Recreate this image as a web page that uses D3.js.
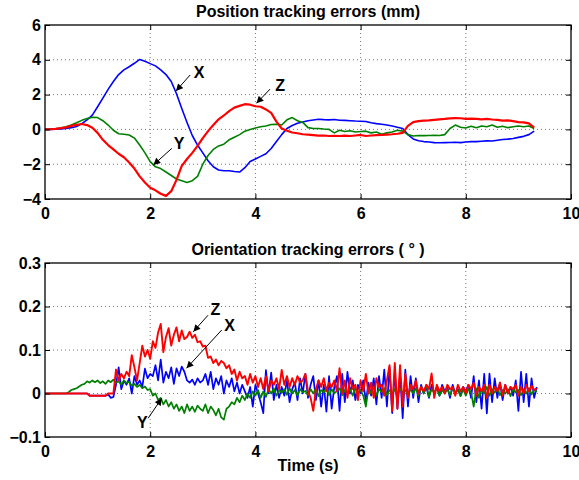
<!DOCTYPE html>
<html>
<head>
<meta charset="utf-8">
<script src="https://cdn.jsdelivr.net/npm/d3@7"></script>
<style>
body { margin: 0; background: #fff; }
text { font-family: "Liberation Sans", Arial, sans-serif; font-weight: bold; fill: #000; }
</style>
</head>
<body>
<svg id="chart" width="579" height="480"></svg>
<script>
// sample interval of each record (s)
var posStep = 0.1;
var oriStep = 0.05;

// position errors (mm), one row per second
var posX = [
	0, 0, 0.01, 0.03, 0.05, 0.1, 0.17, 0.33, 0.55, 0.82,
	1.3, 1.8, 2.3, 2.75, 3.15, 3.42, 3.6, 3.8, 4.02, 3.92,
	3.78, 3.65, 3.42, 3.15, 2.75, 2.05, 1.2, 0.4, -0.35, -0.9,
	-1.35, -1.8, -2.15, -2.33, -2.38, -2.38, -2.42, -2.45, -2.2, -1.85,
	-1.7, -1.55, -1.4, -1.1, -0.7, -0.3, 0.05, 0.22, 0.35, 0.43,
	0.5, 0.54, 0.58, 0.56, 0.55, 0.57, 0.53, 0.52, 0.5, 0.48,
	0.47, 0.45, 0.38, 0.33, 0.3, 0.25, 0.2, 0.12, 0.05, -0.3,
	-0.55, -0.65, -0.7, -0.72, -0.76, -0.77, -0.76, -0.75, -0.74, -0.76,
	-0.72, -0.7, -0.7, -0.68, -0.66, -0.67, -0.62, -0.58, -0.56, -0.52,
	-0.46, -0.4, -0.3, -0.1
];
var posY = [
	0, 0.01, 0.04, 0.08, 0.15, 0.25, 0.38, 0.52, 0.62, 0.7,
	0.68, 0.5, 0.25, -0.05, -0.25, -0.28, -0.32, -0.5, -0.9, -1.35,
	-1.85, -2.15, -2.25, -2.45, -2.65, -2.85, -2.95, -3.05, -2.95, -2.7,
	-2.0, -1.5, -1.15, -0.95, -0.85, -0.6, -0.45, -0.3, -0.1, 0.0,
	0.08, 0.15, 0.2, 0.28, 0.3, 0.25, 0.55, 0.68, 0.5, 0.4,
	0.1, 0.05, 0.05, 0.02, 0.0, -0.2, -0.05, -0.12, -0.08, -0.15,
	-0.12, -0.1, -0.2, -0.15, -0.28, -0.2, -0.15, -0.05, -0.1, -0.3,
	-0.38, -0.35, -0.36, -0.35, -0.34, -0.35, -0.3, 0.05, 0.25, 0.12,
	0.08, 0.18, 0.1, 0.2, 0.15, 0.25, 0.12, 0.18, 0.1, 0.15,
	0.2, 0.15, 0.2, 0.05
];
var posZ = [
	0, 0.01, 0.03, 0.07, 0.12, 0.2, 0.26, 0.31, 0.25, 0.1,
	-0.2, -0.6, -0.9, -1.15, -1.4, -1.6, -1.9, -2.25, -2.7, -3.05,
	-3.35, -3.5, -3.7, -3.82, -3.55, -2.9, -2.1, -1.7, -1.35, -0.95,
	-0.5, -0.1, 0.25, 0.58, 0.8, 1.05, 1.25, 1.35, 1.45, 1.42,
	1.33, 1.3, 1.15, 0.95, 0.45, 0.05, -0.08, -0.18, -0.22, -0.28,
	-0.3, -0.33, -0.36, -0.35, -0.38, -0.37, -0.38, -0.36, -0.38, -0.35,
	-0.32, -0.38, -0.35, -0.33, -0.32, -0.3, -0.28, -0.25, -0.2, 0.2,
	0.42, 0.48, 0.5, 0.52, 0.55, 0.58, 0.6, 0.63, 0.65, 0.64,
	0.6, 0.62, 0.6, 0.58, 0.6, 0.57, 0.55, 0.5, 0.52, 0.48,
	0.42, 0.4, 0.35, 0.1
];

// orientation errors (deg), one row per second
var oriX = [
	0, 0, 0, 0, 0, 0, 0, 0, 0, 0, 0, 0, 0, 0, 0, 0, 0, -0.005, -0.005, -0.005,
	-0.005, -0.005, -0.005, -0.005, -0.002, -0.01, -0.008, 0.02, 0.06, 0.01, 0.03, 0.02, 0.035, 0.0, 0.04, 0.02, 0.03, 0.015, 0.057, 0.035,
	0.045, 0.04, 0.065, 0.03, 0.078, 0.025, 0.05, 0.035, 0.06, 0.022, 0.058, 0.04, 0.062, 0.05, 0.03, 0.025, 0.032, 0.02, 0.035, 0.025,
	0.03, 0.045, 0.02, 0.05, 0.01, 0.035, 0.02, 0.04, 0.0, 0.03, 0.015, 0.035, 0.005, 0.025, 0.0, 0.02, 0.005, -0.01, 0.015, -0.03,
	0.02, 0.0, -0.02, -0.045, 0.054, 0.0, 0.048, -0.015, 0.02, -0.01, 0.015, -0.005, 0.03, -0.02, 0.01, 0.025, -0.015, 0.035, 0.0, 0.045,
	-0.01, 0.02, 0.04, -0.015, 0.03, -0.03, 0.02, -0.042, 0.04, -0.035, 0.015, 0.04, -0.04, 0.045, -0.02, 0.05, 0.0, 0.03, -0.015, 0.02,
	0.0, 0.03, -0.02, 0.025, -0.005, 0.035, -0.025, 0.04, -0.01, 0.055, -0.03, 0.06, -0.045, 0.05, -0.035, 0.045, -0.057, 0.055, -0.03, 0.04,
	-0.01, 0.035, -0.02, 0.02, 0.0, 0.015, -0.01, 0.02, 0.0, 0.015, -0.005, 0.02, 0.005, 0.015, -0.01, 0.02, 0.0, 0.01, -0.005, 0.015,
	0.005, 0.02, -0.01, 0.04, -0.02, 0.03, -0.035, 0.045, -0.046, 0.046, -0.02, 0.035, -0.01, 0.025, -0.015, 0.02, 0.0, 0.015, -0.005, 0.03,
	-0.04, 0.05, -0.02, 0.045, -0.03, 0.035, -0.01, 0.015
];
var oriY = [
	0, 0, 0, 0, 0, 0, 0, 0, 0, 0.003, 0.008, 0.01, 0.012, 0.016, 0.02, 0.022, 0.028, 0.025, 0.03, 0.026,
	0.03, 0.024, 0.028, 0.022, 0.03, 0.026, 0.032, 0.025, 0.028, 0.02, 0.03, 0.024, 0.027, 0.018, 0.022, 0.015, 0.02, 0.012, 0.016, 0.008,
	0.01, -0.005, 0.0, -0.015, -0.01, -0.025, -0.015, -0.03, -0.02, -0.035, -0.025, -0.04, -0.03, -0.045, -0.025, -0.04, -0.03, -0.042, -0.028, -0.035,
	-0.04, -0.025, -0.045, -0.03, -0.038, -0.05, -0.035, -0.055, -0.06, -0.035, -0.03, -0.02, -0.025, -0.01, -0.02, -0.005, -0.015, 0.0, -0.01, 0.005,
	-0.005, 0.008, -0.01, 0.005, -0.008, 0.01, 0.0, 0.012, -0.005, 0.008, 0.002, 0.01, -0.003, 0.012, 0.0, 0.008, -0.005, 0.01, 0.003, 0.006,
	-0.004, 0.01, 0.0, 0.012, -0.006, 0.008, 0.002, 0.014, -0.004, 0.01, 0.0, 0.006, 0.012, -0.004, 0.008, 0.0, 0.01, -0.005, 0.012, 0.002,
	0.008, -0.005, -0.03, 0.012, 0.0, 0.015, -0.005, 0.01, 0.003, 0.012, -0.004, 0.008, 0.0, 0.01, -0.006, 0.012, 0.002, 0.008, -0.004, 0.01,
	0.0, 0.012, -0.005, 0.015, 0.0, 0.02, -0.008, 0.01, 0.002, 0.012, -0.005, 0.008, 0.0, 0.01, -0.004, 0.012, 0.003, 0.008, -0.006, 0.01,
	-0.005, 0.01, 0.003, -0.03, 0.012, -0.01, 0.008, 0.0, 0.015, -0.005, 0.01, 0.002, 0.012, -0.004, 0.008, 0.0, 0.01, -0.006, 0.012, 0.002,
	0.008, -0.004, 0.01, 0.0, 0.012, -0.002, 0.008, 0.004
];
var oriZ = [
	0, 0, 0, 0, 0, 0, 0, 0, 0, 0, 0, 0, 0, 0, 0, 0, 0, -0.005, -0.005, -0.005,
	-0.005, -0.005, -0.005, -0.005, 0, 0, 0, 0.055, 0.03, 0.045, 0.035, 0.05, 0.04, 0.088, 0.06, 0.03, 0.07, 0.11, 0.085, 0.1,
	0.08, 0.12, 0.105, 0.14, 0.16, 0.095, 0.13, 0.15, 0.11, 0.135, 0.152, 0.12, 0.145, 0.125, 0.13, 0.142, 0.128, 0.135, 0.118, 0.12,
	0.108, 0.11, 0.082, 0.085, 0.07, 0.078, 0.065, 0.075, 0.07, 0.058, 0.065, 0.045, 0.055, 0.03, 0.05, 0.035, 0.04, 0.02, 0.045, 0.025,
	0.04, 0.015, 0.035, 0.01, 0.04, 0.005, 0.03, 0.02, 0.035, 0.01, 0.054, 0.02, 0.04, 0.015, 0.035, 0.02, 0.04, 0.025, 0.03, 0.045,
	0.005, -0.01, -0.04, 0.01, 0.03, 0.015, 0.035, 0.005, 0.025, 0.015, 0.03, 0.005, 0.058, 0.0, 0.03, -0.01, 0.035, 0.01, 0.02, -0.015,
	0.03, 0.005, 0.045, 0.0, 0.025, -0.01, 0.035, 0.015, 0.02, -0.005, 0.03, 0.065, -0.04, 0.07, -0.035, 0.065, -0.03, 0.045, -0.01, 0.02,
	0.01, 0.03, 0.0, 0.015, 0.005, 0.02, 0.01, 0.046, -0.01, 0.02, 0.005, 0.015, 0.0, 0.02, 0.01, 0.015, -0.005, 0.02, 0.005, 0.015,
	0.0, 0.02, 0.01, 0.025, -0.005, 0.015, 0.005, 0.02, -0.01, 0.02, 0.0, 0.015, 0.005, 0.025, -0.005, 0.02, 0.0, 0.015, 0.01, 0.02,
	-0.005, 0.015, 0.0, 0.02, 0.005, 0.018, 0.008, 0.012
];

var timeTicks = [0, 2, 4, 6, 8, 10];
var posTicks = [-4, -2, 0, 2, 4, 6];
var oriTicks = [-0.1, 0, 0.1, 0.2, 0.3];

// annotation arrows in data units: [label, tipT, tipV, tailT, tailV, textT, textV]
var posNotes = [
	['X', 2.49, 2.21, 2.76, 3.13, 2.93, 3.3],
	['Y', 2.06, -2.05, 2.41, -1.09, 2.55, -0.78],
	['Z', 4.02, 1.5, 4.28, 2.32, 4.47, 2.55]
];
var oriNotes = [
	['Z', 2.82, 0.142, 3.1, 0.18, 3.24, 0.193],
	['X', 2.69, 0.058, 3.36, 0.146, 3.51, 0.156],
	['Y', 2.22, -0.011, 1.96, -0.057, 1.85, -0.066]
];

var svg = d3.select('#chart');

svg.append('defs').append('marker')
	.attr('id', 'head')
	.attr('viewBox', '0 0 10 10')
	.attr('refX', 10).attr('refY', 5)
	.attr('markerWidth', 8).attr('markerHeight', 7)
	.attr('markerUnits', 'userSpaceOnUse')
	.attr('orient', 'auto')
	.append('path').attr('d', 'M0,0L10,5L0,10Z').attr('fill', '#000');

var x = d3.scaleLinear().domain([0, 10]).range([45, 571]);

function drawPanel(top, bottom, yDomain, yTicks, title, fmt, series, step, notes) {
	var y = d3.scaleLinear().domain(yDomain).range([bottom, top]);
	var g = svg.append('g');

	// dotted grid
	g.selectAll('.gx').data(timeTicks.slice(1, -1)).enter().append('line')
		.attr('x1', function(d){ return x(d); }).attr('x2', function(d){ return x(d); })
		.attr('y1', top).attr('y2', bottom)
		.attr('stroke', '#777').attr('stroke-dasharray', '1,3');
	g.selectAll('.gy').data(yTicks.slice(1, -1)).enter().append('line')
		.attr('x1', x(0)).attr('x2', x(10))
		.attr('y1', function(d){ return y(d); }).attr('y2', function(d){ return y(d); })
		.attr('stroke', '#777').attr('stroke-dasharray', '1,3');

	var line = d3.line()
		.x(function(d, i){ return x(i * step); })
		.y(function(d){ return y(d); });

	series.forEach(function(s){
		g.append('path').datum(s.values)
			.attr('d', line)
			.attr('fill', 'none')
			.attr('stroke', s.color)
			.attr('stroke-width', s.width)
			.attr('stroke-linejoin', 'round');
	});

	// axes with ticks pointing inward
	g.append('g').attr('transform', 'translate(0,' + bottom + ')')
		.call(d3.axisBottom(x).tickValues(timeTicks).tickSize(-5).tickPadding(9).tickFormat(d3.format('d')));
	g.append('g').attr('transform', 'translate(0,' + top + ')')
		.call(d3.axisTop(x).tickValues(timeTicks).tickSize(-5).tickFormat(''));
	g.append('g').attr('transform', 'translate(' + x(0) + ',0)')
		.call(d3.axisLeft(y).tickValues(yTicks).tickSize(-5).tickPadding(4).tickFormat(fmt));
	g.append('g').attr('transform', 'translate(' + x(10) + ',0)')
		.call(d3.axisRight(y).tickValues(yTicks).tickSize(-5).tickFormat(''));

	g.selectAll('.domain').remove();
	g.selectAll('.tick line').attr('stroke', '#000');
	g.selectAll('.tick text').style('font-size', '16px');

	g.append('rect')
		.attr('x', x(0)).attr('y', top)
		.attr('width', x(10) - x(0)).attr('height', bottom - top)
		.attr('fill', 'none').attr('stroke', '#000').attr('stroke-width', 1.3);

	g.append('text')
		.attr('x', (x(0) + x(10)) / 2).attr('y', top - 8)
		.attr('text-anchor', 'middle')
		.style('font-size', '16px')
		.text(title);

	notes.forEach(function(n){
		g.append('line')
			.attr('x1', x(n[3])).attr('y1', y(n[4]))
			.attr('x2', x(n[1])).attr('y2', y(n[2]))
			.attr('stroke', '#000').attr('stroke-width', 1)
			.attr('marker-end', 'url(#head)');
		g.append('text')
			.attr('x', x(n[5])).attr('y', y(n[6]))
			.attr('dy', '0.36em')
			.attr('text-anchor', 'middle')
			.style('font-size', '16px')
			.text(n[0]);
	});
}

drawPanel(25, 199, [-4, 6], posTicks, 'Position tracking errors (mm)', d3.format('d'), [
	{ values: posX, color: '#0000ff', width: 1.6 },
	{ values: posY, color: '#008000', width: 1.6 },
	{ values: posZ, color: '#ff0000', width: 2.2 }
], posStep, posNotes);

drawPanel(263, 437, [-0.1, 0.3], oriTicks, 'Orientation tracking errors ( \u00b0 )', d3.format('.1~f'), [
	{ values: oriX, color: '#0000ff', width: 1.7 },
	{ values: oriY, color: '#008000', width: 1.7 },
	{ values: oriZ, color: '#ff0000', width: 1.9 }
], oriStep, oriNotes);

svg.append('text')
	.attr('x', (x(0) + x(10)) / 2).attr('y', 471)
	.attr('text-anchor', 'middle')
	.style('font-size', '16px')
	.text('Time (s)');
</script>
</body>
</html>
